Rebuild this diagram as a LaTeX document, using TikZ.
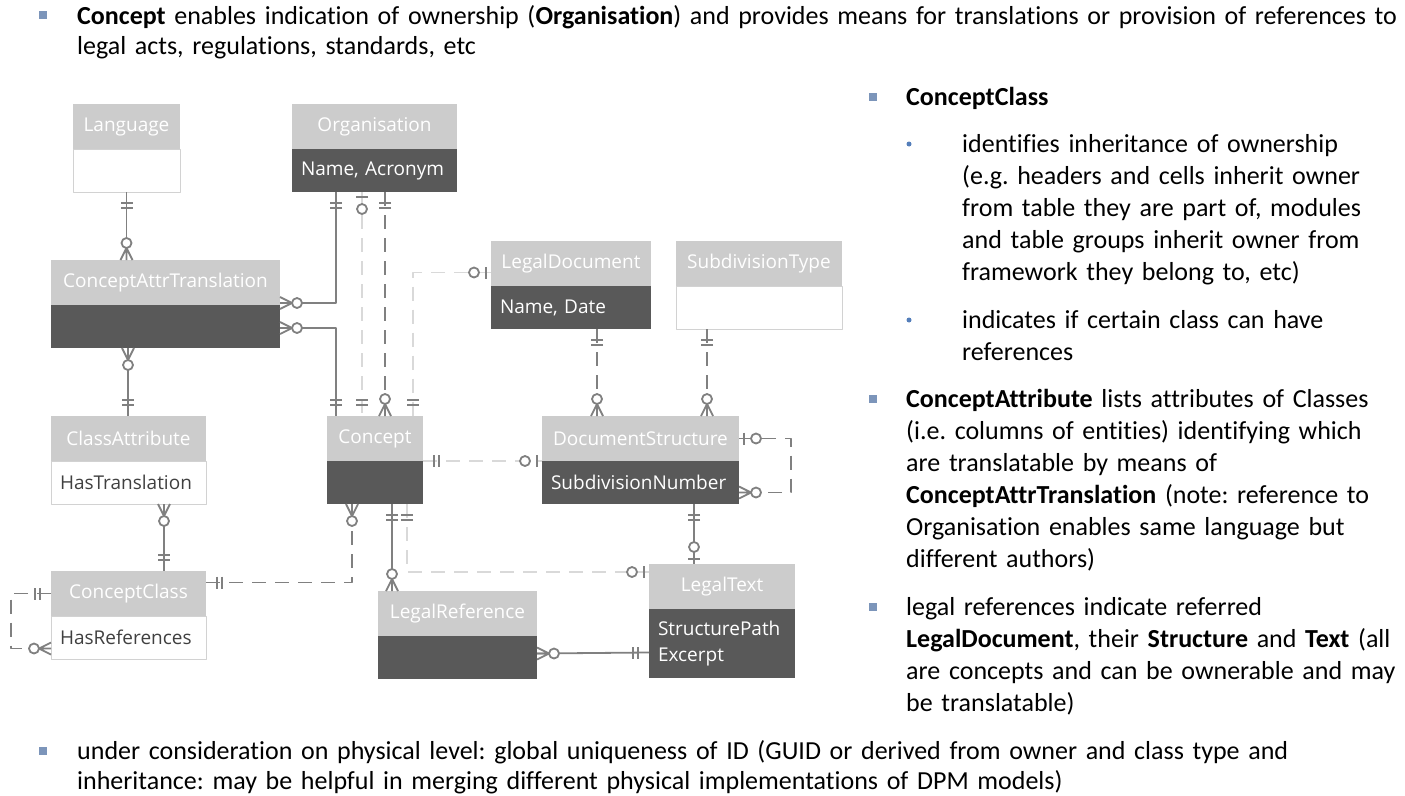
\documentclass[tikz,border=0pt]{standalone}
\usepackage{fontspec}
\setmainfont[Ligatures=NoCommon]{Carlito}
\newfontfamily\erfont{Open Sans}
\usetikzlibrary{positioning}
\definecolor{hdgray}{RGB}{204,204,204}
\definecolor{bddark}{RGB}{89,89,89}
\definecolor{lndark}{RGB}{128,128,128}
\definecolor{lnlite}{RGB}{217,217,217}
\definecolor{bxline}{RGB}{210,210,210}
\definecolor{bdtext}{RGB}{64,64,64}
\definecolor{bulsq}{RGB}{124,149,186}
\definecolor{buldot}{RGB}{84,126,186}
\frenchspacing
\begin{document}
\begin{tikzpicture}[x=1pt,y=-1pt,line join=round]
\tikzset{
  ent/.style={anchor=north west,fill=hdgray,text=white,font=\erfont\fontsize{19}{22}\selectfont,inner sep=0pt,outer sep=0pt,minimum height=45pt,align=center},
  dkbody/.style={below=0pt of #1,fill=bddark,text=white,font=\erfont\fontsize{19}{26}\selectfont,inner xsep=9pt,inner ysep=0pt,outer sep=0pt,minimum height=43pt,align=left},
  wtbody/.style={dkbody=#1,fill=white,draw=bxline,line width=1pt,text=bdtext},
  rel/.style={draw=lndark,line width=1.8pt},
  relite/.style={draw=lnlite,line width=1.8pt},
  dsh/.style={dash pattern=on 14pt off 9pt},
  ltc/.style={color=lnlite},
  every pic/.style={color=lndark},
  pics/crowone/.style={code={\draw[solid,line width=1.8pt] (11,-6)--(11,6) (16,-6)--(16,6);}},
  pics/crowmany/.style={code={\draw[solid,line width=1.8pt] (0,-6)--(12,0)--(0,6) (0,0)--(12,0);
    \draw[solid,line width=1.8pt,fill=white] (17,0) circle[radius=5pt];}},
  pics/crowzo/.style={code={\draw[solid,line width=1.8pt] (5,-6)--(5,6);
    \draw[solid,line width=1.8pt,fill=white] (17,0) circle[radius=5pt];}},
  txt/.style={anchor=base west,inner sep=0pt,text width=1340pt,align=left,font=\fontsize{26}{30}\selectfont},
  rtxt/.style={txt,text width=540pt,font=\fontsize{26}{32}\selectfont},
  sqbul/.style={fill=bulsq,minimum size=8pt,inner sep=0pt},
  dotbul/.style={circle,fill=buldot,minimum size=5pt,inner sep=0pt}
}
\useasboundingbox (0,0) rectangle (1405,795);

\node[ent,text width=107pt] (lang) at (73,104) {Language};
\node[wtbody=lang,text width=89pt] (lang-b) {};
\node[ent,text width=165pt] (org) at (292,104) {Organisation};
\node[dkbody=org,text width=147pt] (org-b) {Name, Acronym};
\node[ent,text width=229pt] (cat) at (51,260) {ConceptAttrTranslation};
\node[dkbody=cat,text width=211pt] (cat-b) {};
\node[ent,text width=155pt] (clsattr) at (51,416) {ClassAttribute};
\node[wtbody=clsattr,text width=137pt] (clsattr-b) {HasTranslation};
\node[ent,text width=155pt] (cclass) at (51,571) {ConceptClass};
\node[wtbody=cclass,text width=137pt] (cclass-b) {HasReferences};
\node[ent,text width=96pt] (concept) at (327,416) {Concept};
\node[dkbody=concept,text width=78pt] (concept-b) {};
\node[ent,text width=159pt] (legref) at (378,591) {LegalReference};
\node[dkbody=legref,text width=141pt] (legref-b) {};
\node[ent,text width=160pt] (legdoc) at (491,241) {LegalDocument};
\node[dkbody=legdoc,text width=142pt] (legdoc-b) {Name, Date};
\node[ent,text width=166pt] (subtype) at (676,241) {SubdivisionType};
\node[wtbody=subtype,text width=148pt] (subtype-b) {};
\node[ent,text width=197pt] (docstr) at (542,416) {DocumentStructure};
\node[dkbody=docstr,text width=179pt] (docstr-b) {SubdivisionNumber};
\node[ent,text width=146pt] (legtext) at (649,564) {LegalText};
\node[dkbody=legtext,text width=128pt,minimum height=69pt] (legtext-b) {StructurePath\\Excerpt};

\draw[rel] (lang-b.south) pic[rotate=-90]{crowone} -- (lang-b.south |- cat.north) pic[rotate=90]{crowmany};
\draw[rel] ([xshift=44pt]org-b.south west) pic[rotate=-90]{crowone} |- ([yshift=2pt]cat-b.north east) pic{crowmany};
\draw[rel] ([yshift=-23pt]cat-b.north east) pic{crowmany} -| ([xshift=9pt]concept.north west) pic[rotate=90]{crowone};
\draw[relite,dsh] ([xshift=70pt]org-b.south west) pic[rotate=-90,ltc]{crowzo} -- ([xshift=35pt]concept.north west) pic[rotate=90,ltc]{crowone};
\draw[rel,dsh] ([xshift=93pt]org-b.south west) pic[rotate=-90]{crowone} -- ([xshift=58pt]concept.north west) pic[rotate=90]{crowmany};
\draw[relite,dsh] ([yshift=-9pt]legdoc.west) pic[rotate=180,ltc]{crowzo} -| ([xshift=86pt]concept.north west) pic[rotate=90,ltc]{crowone};
\draw[relite,dsh] (concept-b.north east) pic[ltc]{crowone} -- (docstr-b.north west) pic[rotate=180,ltc]{crowzo};
\draw[rel,dsh] ([xshift=106pt]legdoc-b.south west) pic[rotate=-90]{crowone} -- ([xshift=55pt]docstr.north west) pic[rotate=90]{crowmany};
\draw[rel,dsh] ([xshift=31pt]subtype-b.south west) pic[rotate=-90]{crowone} -- ([xshift=165pt]docstr.north west) pic[rotate=90]{crowmany};
\draw[rel,dsh] (docstr.east) pic{crowzo} -- ++(52,0) |- ([yshift=-10pt]docstr-b.east) pic{crowmany};
\draw[rel] ([xshift=152pt]docstr-b.south west) pic[rotate=-90]{crowone} -- ([xshift=45pt]legtext.north west) pic[rotate=90]{crowzo};
\draw[rel] ([xshift=65pt]concept-b.south west) pic[rotate=-90]{crowone} -- ([xshift=14pt]legref.north west) pic[rotate=90]{crowmany};
\draw[relite,dsh] ([xshift=80pt]concept-b.south west) pic[rotate=-90,ltc]{crowone} |- ([yshift=-8pt]legtext.north west) pic[rotate=180,ltc]{crowzo};
\draw[rel] ([yshift=4pt]legref-b.east) pic{crowmany} -- ([yshift=-9pt]legtext-b.west) pic[rotate=180]{crowone};
\draw[rel,dsh] ([yshift=11pt]cclass.east) pic{crowone} -| ([xshift=25pt]concept-b.south west) pic[rotate=-90]{crowmany};
\draw[rel] ([xshift=113pt]clsattr-b.south west) pic[rotate=-90]{crowmany} -- ([xshift=113pt]cclass.north west) pic[rotate=90]{crowone};
\draw[rel] ([xshift=77pt]cat-b.south west) pic[rotate=-90]{crowmany} -- ([xshift=77pt]clsattr.north west) pic[rotate=90]{crowone};
\draw[rel,dsh] (cclass.west) pic[rotate=180]{crowone} -- ++(-40,0) |- ([yshift=-11pt]cclass-b.west) pic[rotate=180]{crowmany};

\foreach \n/\x/\y in {sq1/43/15,sq2/873/97,sq3/873/399,sq4/873/607,sq5/43/751}
  \node[sqbul] (\n) at (\x,\y) {};
\foreach \n/\y in {dt1/144,dt2/320}
  \node[dotbul] (\n) at (909,\y) {};

\node[txt] (intro) at (77,24) {\textbf{Concept} enables indication of ownership (\textbf{Organisation}) and provides means for translations or provision of references to\\legal acts, regulations, standards, etc};
\node[rtxt] (ccl) at (906,105) {\textbf{ConceptClass}};
\node[rtxt] (ccl-a) at (962,152) {identifies inheritance of ownership\\(e.g. headers and cells inherit owner\\from table they are part of, modules\\and table groups inherit owner from\\framework they belong to, etc)};
\node[rtxt] (ccl-b) at (962,328) {indicates if certain class can have\\references};
\node[rtxt] (catt) at (906,407) {\textbf{ConceptAttribute} lists attributes of Classes\\(i.e. columns of entities) identifying which\\are translatable by means of\\\textbf{ConceptAttrTranslation} (note: reference to\\Organisation enables same language but\\different authors)};
\node[rtxt] (lref) at (906,615) {legal references indicate referred\\\textbf{LegalDocument}, their \textbf{Structure} and \textbf{Text} (all\\are concepts and can be ownerable and may\\be translatable)};
\node[txt] (phys) at (77,759) {under consideration on physical level: global uniqueness of ID (GUID or derived from owner and class type and\\inheritance: may be helpful in merging different physical implementations of DPM models)};
\end{tikzpicture}
\end{document}
